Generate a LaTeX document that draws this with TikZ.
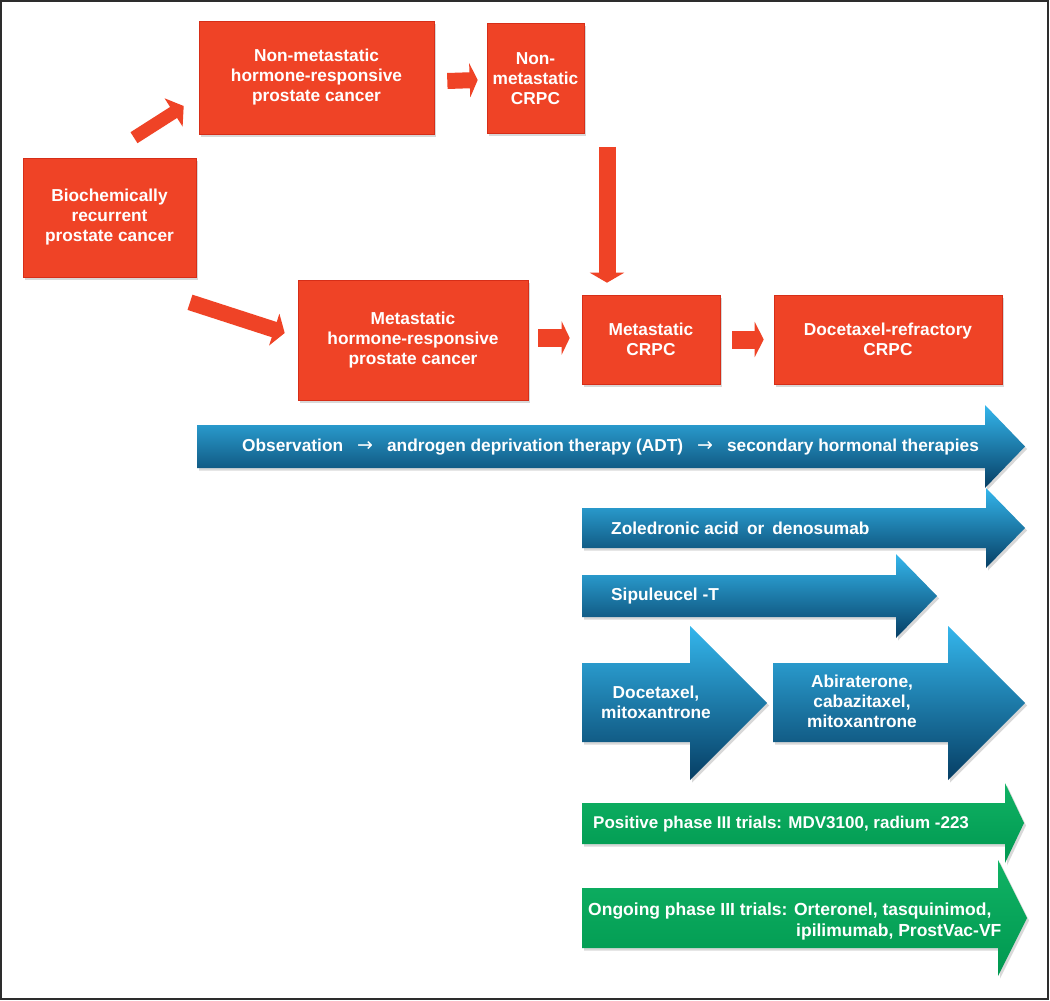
\documentclass[tikz,border=0pt]{standalone}
\usepackage{fontspec}
\setmainfont{Liberation Sans}
\newfontfamily\arrowfont{DejaVu Sans}
\usetikzlibrary{arrows.meta,shadows}
\definecolor{boxred}{RGB}{239,67,38}
\definecolor{boxredD}{RGB}{214,46,24}
\definecolor{blueL}{RGB}{52,182,236}
\definecolor{blueM}{RGB}{18,140,205}
\definecolor{blueD}{RGB}{6,62,100}
\definecolor{greenL}{RGB}{16,178,100}
\definecolor{greenD}{RGB}{0,152,80}
\definecolor{framegray}{RGB}{45,45,45}
\newcommand\blockarrow[8]{%
  \shade[#1] (#2,#5) -- (#3,#5) -- (#3,#7) -- (#4,{(#7+#8)/2}) -- (#3,#8) -- (#3,#6) -- (#2,#6) -- cycle;}
\newcommand\thinarrow{{\arrowfont\mdseries\fontsize{19}{20}\selectfont →}}
\begin{document}
\begin{tikzpicture}[x=1pt,y=-1pt,
  shadowed/.style={drop shadow={shadow xshift=2pt,shadow yshift=-2.5pt,opacity=0.3}},
  redbox/.style={draw=boxredD, line width=0.6pt, fill=boxred, text=white,
    font=\fontsize{17.3}{20}\selectfont\bfseries, align=center, inner sep=0pt, shadowed},
  redarrow/.style={draw=boxred, line width=#1},
  redarrow/.default=16pt,
  bluearrow/.style={top color=blueL, middle color=blueM, bottom color=blueD, shadowed},
  greenarrow/.style={top color=greenL, bottom color=greenD, shadowed},
  bluetext/.style={text=white, font=\fontsize{17.3}{20}\selectfont\bfseries, inner sep=0pt},
  greentext/.style={text=white, font=\fontsize{17}{21}\selectfont\bfseries, inner sep=0pt},
]
\useasboundingbox (0,0) rectangle (1050,1001);
\fill[white] (0,0) rectangle (1050,1001);

% red boxes
\node[redbox, minimum width=173pt, minimum height=119pt] (bio) at (109.5,217.5) {Biochemically\\recurrent\\prostate cancer};
\node[redbox, minimum width=235pt, minimum height=113pt] (nmhr) at (316.5,77.5) {Non-metastatic\\hormone-responsive\\prostate cancer};
\node[redbox, minimum width=97pt, minimum height=110pt] (nmcrpc) at (535.5,78.5) {Non-\\metastatic\\CRPC};
\node[redbox, minimum width=230pt, minimum height=120pt] (mhr) at (413,340) {Metastatic\\hormone-responsive\\prostate cancer};
\node[redbox, minimum width=138pt, minimum height=89pt] (mcrpc) at (651,339.5) {Metastatic\\CRPC};
\node[redbox, minimum width=228pt, minimum height=89pt] (docref) at (888,339.5) {Docetaxel-refractory\\CRPC};

% red connectors
\draw[redarrow=13pt, -{Triangle[width=33pt,length=12pt]}] ([shift={(24.5,-20)}]bio.north) -- ([shift={(-15,28.5)}]nmhr.west);
\draw[redarrow=16pt, -{Triangle[width=33pt,length=11pt]}] ([shift={(80.5,25)}]bio.south) -- ([shift={(-13,-7)}]mhr.west);
\draw[redarrow=16pt, -{Triangle[width=34pt,length=8pt]}] ([shift={(13,3.5)}]nmhr.east) -- ([shift={(-9,1.5)}]nmcrpc.west);
\draw[redarrow=17pt, -{Triangle[width=34pt,length=10pt]}] ([shift={(71.5,13)}]nmcrpc.south) -- ([shift={(-44,-12)}]mcrpc.north);
\draw[redarrow=18pt, -{Triangle[width=33pt,length=8pt]}] ([shift={(10,-2)}]mhr.east) -- ([shift={(-12,-1.5)}]mcrpc.west);
\draw[redarrow=18pt, -{Triangle[width=35pt,length=9pt]}] ([shift={(12,0)}]mcrpc.east) -- ([shift={(-10,0)}]docref.west);

% blue therapy arrows
\blockarrow{bluearrow}{197}{985}{1025}{425}{468}{405}{488}
\blockarrow{bluearrow}{582}{986}{1025}{508}{548}{488}{568}
\blockarrow{bluearrow}{582}{896}{937}{575}{617}{554}{638}
\blockarrow{bluearrow}{582}{690}{767}{663}{742}{626}{780}
\blockarrow{bluearrow}{773}{948}{1025}{663}{742}{626}{780}
% green trial arrows
\blockarrow{greenarrow}{582}{1005}{1024}{803}{844}{783}{863}
\blockarrow{greenarrow}{582}{998}{1027}{888}{948}{860}{976}

% texts
\node[bluetext, anchor=west] (obs) at (242,447) {Observation\hspace{14pt}\thinarrow\hspace{14pt}androgen deprivation therapy (ADT)\hspace{14pt}\thinarrow\hspace{14pt}secondary hormonal therapies};
\node[bluetext, anchor=west] (zol) at (611,528) {Zoledronic acid\hspace{8pt}or\hspace{8pt}denosumab};
\node[bluetext, anchor=west] (sip) at (611,596) {Sipuleucel -T};
\node[bluetext, align=center] (doc) at (656,702) {Docetaxel,\\mitoxantrone};
\node[bluetext, align=center] (abi) at (862,701) {Abiraterone,\\cabazitaxel,\\mitoxantrone};
\node[greentext, anchor=west] (pos) at (593,824) {Positive phase III trials: MDV3100, radium -223};
\node[greentext, anchor=west, align=left, font=\fontsize{17.5}{21}\selectfont\bfseries] (ong) at (588,921) {Ongoing phase III trials: Orteronel, tasquinimod,\\\hspace*{208pt}ipilimumab, ProstVac-VF};

% frame
\draw[framegray, line width=2pt] (1,1) rectangle (1047.5,998.5);
\end{tikzpicture}
\end{document}
